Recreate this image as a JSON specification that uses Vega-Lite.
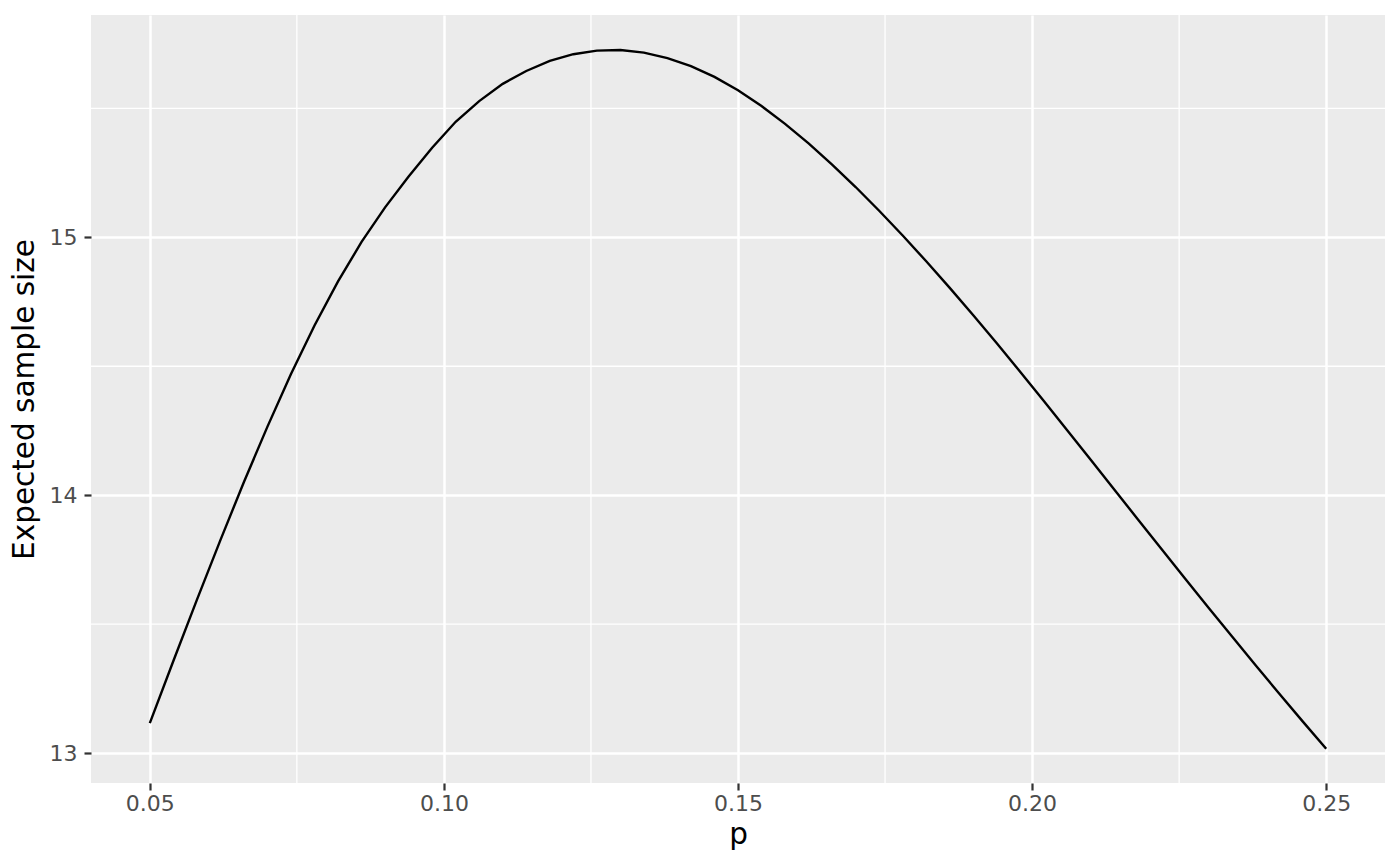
{
  "$schema": "https://vega.github.io/schema/vega-lite/v6.json",
  "autosize": "none",
  "width": 1294,
  "height": 768,
  "padding": {"left": 91, "top": 15, "right": 15, "bottom": 83},
  "background": "white",
  "config": {
    "view": {"fill": "#EBEBEB", "stroke": null},
    "axis": {
      "domain": false,
      "grid": true,
      "gridColor": "white",
      "gridWidth": 2.5,
      "tickColor": "#333333",
      "tickWidth": 2.2,
      "tickSize": 7,
      "labelColor": "#4D4D4D",
      "labelFont": "DejaVu Sans",
      "labelFontSize": 22,
      "titleFont": "DejaVu Sans",
      "titleFontSize": 29.5,
      "titleFontWeight": "normal",
      "titleColor": "black"
    }
  },
  "datasets": {
    "curve": [
      {"p": 0.050, "n": 13.116}, {"p": 0.054, "n": 13.357}, {"p": 0.058, "n": 13.594},
      {"p": 0.062, "n": 13.826}, {"p": 0.066, "n": 14.051}, {"p": 0.070, "n": 14.266},
      {"p": 0.074, "n": 14.470}, {"p": 0.078, "n": 14.658}, {"p": 0.082, "n": 14.829},
      {"p": 0.086, "n": 14.982}, {"p": 0.090, "n": 15.116}, {"p": 0.094, "n": 15.236},
      {"p": 0.098, "n": 15.347}, {"p": 0.102, "n": 15.448}, {"p": 0.106, "n": 15.528},
      {"p": 0.110, "n": 15.595}, {"p": 0.114, "n": 15.645}, {"p": 0.118, "n": 15.684},
      {"p": 0.122, "n": 15.710}, {"p": 0.126, "n": 15.724}, {"p": 0.130, "n": 15.726},
      {"p": 0.134, "n": 15.716}, {"p": 0.138, "n": 15.695}, {"p": 0.142, "n": 15.664},
      {"p": 0.146, "n": 15.622}, {"p": 0.150, "n": 15.570}, {"p": 0.154, "n": 15.509},
      {"p": 0.158, "n": 15.440}, {"p": 0.162, "n": 15.364}, {"p": 0.166, "n": 15.282},
      {"p": 0.170, "n": 15.195}, {"p": 0.174, "n": 15.103}, {"p": 0.178, "n": 15.007},
      {"p": 0.182, "n": 14.907}, {"p": 0.186, "n": 14.804}, {"p": 0.190, "n": 14.698},
      {"p": 0.194, "n": 14.589}, {"p": 0.198, "n": 14.478}, {"p": 0.202, "n": 14.365},
      {"p": 0.206, "n": 14.251}, {"p": 0.210, "n": 14.136}, {"p": 0.214, "n": 14.021},
      {"p": 0.218, "n": 13.906}, {"p": 0.222, "n": 13.791}, {"p": 0.226, "n": 13.677},
      {"p": 0.230, "n": 13.564}, {"p": 0.234, "n": 13.452}, {"p": 0.238, "n": 13.341},
      {"p": 0.242, "n": 13.231}, {"p": 0.246, "n": 13.123}, {"p": 0.250, "n": 13.017}
    ],
    "minorx": [{"p": 0.075}, {"p": 0.125}, {"p": 0.175}, {"p": 0.225}],
    "minory": [{"n": 13.5}, {"n": 14.5}, {"n": 15.5}]
  },
  "layer": [
    {
      "data": {"name": "minorx"},
      "mark": {"type": "rule", "color": "white", "strokeWidth": 1.3},
      "encoding": {
        "x": {"field": "p", "type": "quantitative", "scale": {"domain": [0.04, 0.26], "nice": false, "zero": false}}
      }
    },
    {
      "data": {"name": "minory"},
      "mark": {"type": "rule", "color": "white", "strokeWidth": 1.3},
      "encoding": {
        "y": {"field": "n", "type": "quantitative", "scale": {"domain": [12.884, 15.862], "nice": false, "zero": false}}
      }
    },
    {
      "data": {"name": "curve"},
      "mark": {"type": "line", "color": "black", "strokeWidth": 2.4},
      "encoding": {
        "x": {
          "field": "p", "type": "quantitative", "title": "p",
          "scale": {"domain": [0.04, 0.26], "nice": false, "zero": false},
          "axis": {"values": [0.05, 0.1, 0.15, 0.2, 0.25], "format": ".2f", "labelPadding": 3, "titlePadding": 6}
        },
        "y": {
          "field": "n", "type": "quantitative", "title": "Expected sample size",
          "scale": {"domain": [12.884, 15.862], "nice": false, "zero": false},
          "axis": {"values": [13, 14, 15], "format": "d", "labelPadding": 7, "titlePadding": 10}
        }
      }
    }
  ]
}
